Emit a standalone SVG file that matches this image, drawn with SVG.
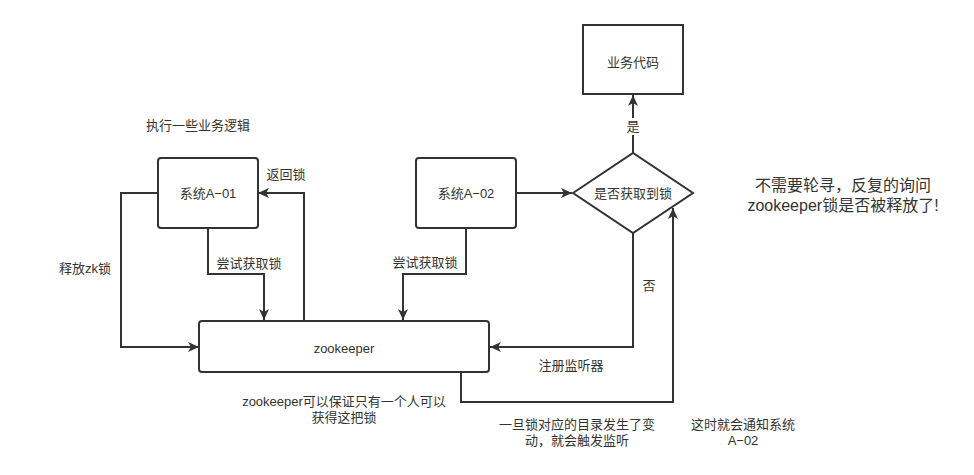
<svg xmlns="http://www.w3.org/2000/svg" width="974" height="475" viewBox="0 0 974 475">
<defs>
<marker id="arr" markerWidth="12" markerHeight="10" refX="11" refY="5" orient="auto" markerUnits="userSpaceOnUse">
<path d="M0,0 L11,5 L0,10 L3,5 Z" fill="#333"/>
</marker>
<style>
.box{fill:#fff;stroke:#333;stroke-width:2}
.ln{fill:none;stroke:#333;stroke-width:2;marker-end:url(#arr)}
text{font-family:"Liberation Sans","Noto Sans CJK SC",sans-serif;font-size:13px;fill:#333;text-anchor:middle;dominant-baseline:central}
.big{font-size:16px}
</style>
</defs>
<rect width="974" height="475" fill="#fff"/>
<g id="connectors">
<path class="ln" d="M158,193 H121 V347 H199"/>
<path class="ln" d="M304,321 V193 H258"/>
<path class="ln" d="M208,228 V274 H264 V320"/>
<path class="ln" d="M466,228 V274 H403 V320"/>
<path class="ln" d="M516,193 H572"/>
<path class="ln" d="M633,153 V95"/>
<path class="ln" d="M633,233 V347 H490"/>
<path class="ln" d="M461,372 V402 H673 V208"/>
<rect x="624" y="118" width="18" height="17" fill="#fff"/>
<text x="633" y="126">是</text>
<text x="649" y="285">否</text>
<text x="571" y="365">注册监听器</text>
<text x="286" y="174">返回锁</text>
<text x="249" y="263">尝试获取锁</text>
<text x="425" y="262">尝试获取锁</text>
<text x="85" y="268">释放zk锁</text>
</g>
<g id="sysA01">
<rect class="box" x="158" y="158" width="100" height="70" rx="3"/>
<text x="208" y="193">系统A−01</text>
</g>
<g id="sysA02">
<rect class="box" x="416" y="158" width="100" height="70" rx="3"/>
<text x="466" y="193">系统A−02</text>
</g>
<g id="zookeeper">
<rect class="box" x="199" y="321" width="290" height="51" rx="3"/>
<text x="344" y="348">zookeeper</text>
</g>
<g id="decision">
<path class="box" d="M573,193 L633,153 L693,193 L633,233 Z"/>
<text x="633" y="193">是否获取到锁</text>
</g>
<g id="bizcode">
<rect class="box" x="583" y="25" width="100" height="69"/>
<text x="633" y="62">业务代码</text>
</g>
<g id="notes">
<text x="198" y="125">执行一些业务逻辑</text>
<text x="344" y="401">zookeeper可以保证只有一个人可以</text>
<text x="344" y="417">获得这把锁</text>
<text x="577" y="424">一旦锁对应的目录发生了变</text>
<text x="577" y="440">动，就会触发监听</text>
<text x="743" y="424">这时就会通知系统</text>
<text x="743" y="440">A−02</text>
<text class="big" x="843" y="185">不需要轮寻，反复的询问</text>
<text class="big" x="843" y="205">zookeeper锁是否被释放了!</text>
</g>
</svg>
